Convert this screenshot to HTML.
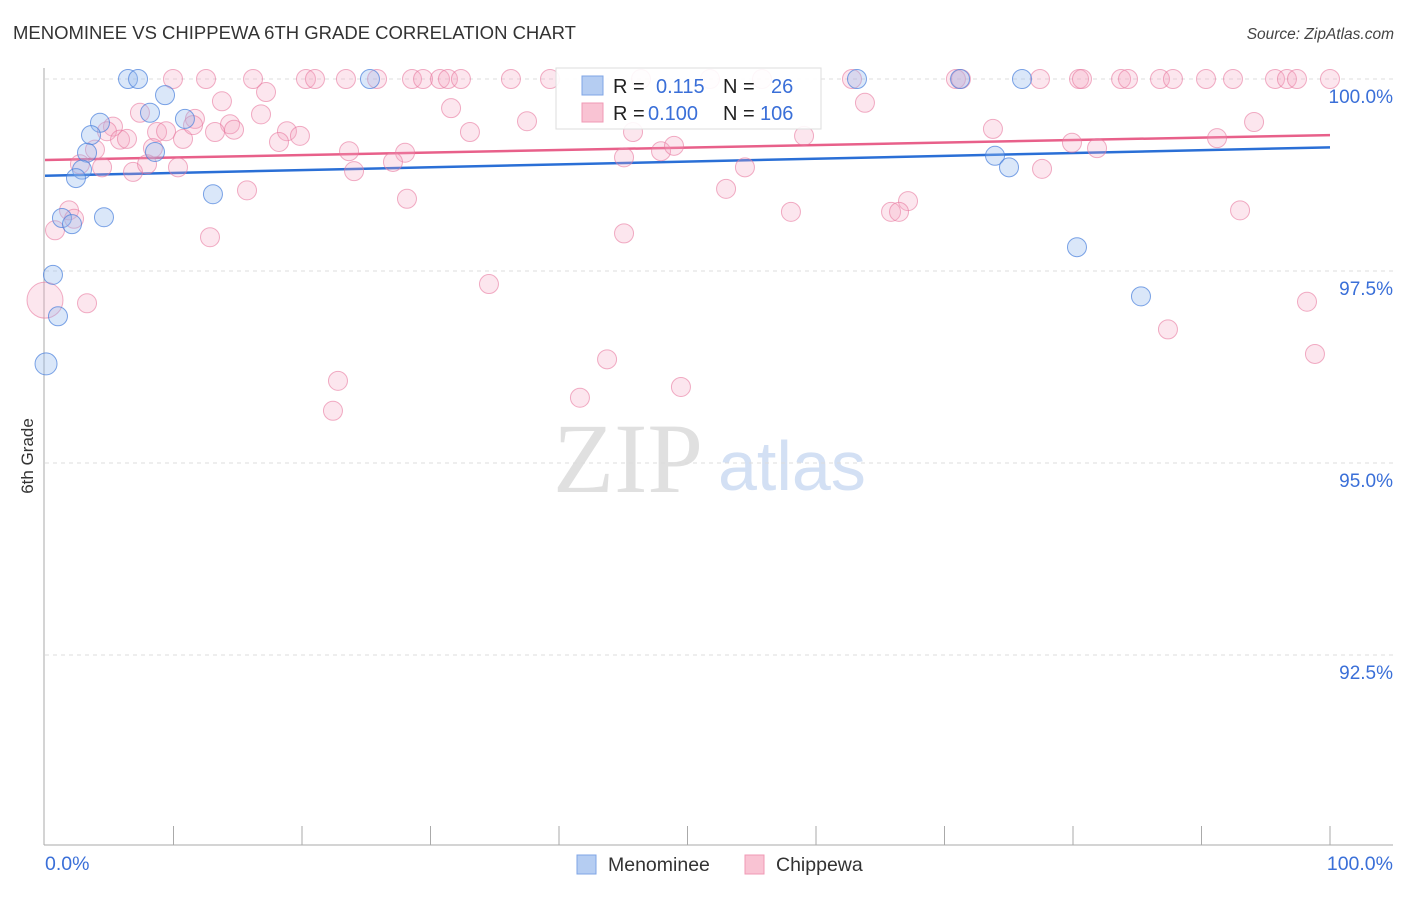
<!DOCTYPE html>
<html><head><meta charset="utf-8"><style>
body{margin:0;background:#fff;font-family:"Liberation Sans",sans-serif;}
</style></head><body>
<svg id="chart" width="1406" height="892" xmlns="http://www.w3.org/2000/svg" font-family="Liberation Sans, sans-serif">
<text x="13" y="39" font-size="18.5" fill="#333">MENOMINEE VS CHIPPEWA 6TH GRADE CORRELATION CHART</text>
<text x="1394" y="39" font-size="15.5" fill="#444" text-anchor="end" font-style="italic">Source: ZipAtlas.com</text>
<g>
<text x="553" y="492" font-size="100" fill="#e0e0e0" style="font-family:'Liberation Serif',serif">ZIP</text>
<text x="718" y="490" font-size="70" fill="#d3e0f4">atlas</text>
</g>
<g id="grid"></g>
<g id="axes"></g>
<g id="lines"></g>
<g id="pts"></g>
<text transform="translate(33,456) rotate(-90)" font-size="17" fill="#333" text-anchor="middle">6th Grade</text>
<text x="45" y="870" font-size="19.5" fill="#3a6fd8">0.0%</text>
<text x="1393" y="870" font-size="19.5" fill="#3a6fd8" text-anchor="end">100.0%</text>
<g>
<rect x="556" y="68" width="265" height="61" fill="#fff" fill-opacity="0.9" stroke="#ddd"/>
<rect x="582" y="76" width="21" height="19" fill="#b5cdf2" stroke="#7fa5e6"/>
<rect x="582" y="103" width="21" height="19" fill="#f9c3d3" stroke="#f09ab5"/>
<text x="613" y="93" font-size="20" fill="#222">R = </text><text x="656" y="93" font-size="20" fill="#3a6fd8">0.115</text>
<text x="723" y="93" font-size="20" fill="#222">N = </text><text x="771" y="93" font-size="20" fill="#3a6fd8">26</text>
<text x="613" y="120" font-size="20" fill="#222">R = </text><text x="648" y="120" font-size="20" fill="#3a6fd8">0.100</text>
<text x="723" y="120" font-size="20" fill="#222">N = </text><text x="760" y="120" font-size="20" fill="#3a6fd8">106</text>
</g>
<g>
<rect x="577" y="855" width="19" height="19" fill="#b5cdf2" stroke="#7fa5e6"/>
<text x="608" y="871" font-size="19.5" fill="#333">Menominee</text>
<rect x="745" y="855" width="19" height="19" fill="#f9c3d3" stroke="#f09ab5"/>
<text x="776" y="871" font-size="19.5" fill="#333">Chippewa</text>
</g>
</svg>
<script>
const yTicks=[100,97.5,95,92.5];
const yTickLabels=["100.0%","97.5%","95.0%","92.5%"];
const xTicks=[10,20,30,40,50,60,70,80,90,100];
const menX=[6.46,7.24,25.29,63.19,71.21,76.03,9.34,8.17,4.28,10.89,3.58,8.56,3.27,2.88,2.41,13.07,1.32,2.10,4.59,0.62,1.01,0.08,73.93,75.02,80.31,85.29];
const menY=[100,100,100,100,100,100,99.79,99.56,99.43,99.48,99.27,99.05,99.04,98.82,98.71,98.50,98.19,98.11,98.20,97.45,96.91,96.29,99.00,98.85,97.81,97.17];
const chipX=[9.96,12.53,16.19,20.31,21.01,23.42,25.84,28.56,29.42,30.74,31.36,32.37,36.26,39.30,46.38,51.75,55.80,62.80,70.89,71.28,77.43,80.47,80.70,83.74,84.28,86.77,87.78,90.35,92.45,95.72,96.65,97.43,100,
13.77,17.20,7.39,11.67,16.81,63.81,31.60,37.51,5.29,4.82,14.40,14.71,18.83,19.84,8.72,9.42,10.74,5.84,6.38,11.52,13.23,18.21,33.07,45.76,59.07,94.09,73.77,91.21,3.89,8.40,23.66,28.02,45.06,47.94,48.95,79.92,81.87,2.72,4.44,6.85,7.94,10.35,27.08,24.05,54.47,77.59,15.72,28.17,53.00,67.16,65.84,66.46,58.05,93.00,1.87,2.26,0.78,12.84,45.06,34.55,3.27,98.21,0,87.39,98.83,43.74,49.49,22.80,22.41,41.63];
const chipY=[100,100,100,100,100,100,100,100,100,100,100,100,100,100,100,100,100,100,100,100,100,100,100,100,100,100,100,100,100,100,100,100,100,
99.71,99.83,99.56,99.48,99.54,99.69,99.62,99.45,99.38,99.32,99.41,99.34,99.32,99.26,99.31,99.32,99.22,99.21,99.22,99.40,99.31,99.18,99.31,99.31,99.26,99.44,99.35,99.23,99.08,99.10,99.06,99.04,98.98,99.06,99.13,99.17,99.10,98.89,98.85,98.79,98.89,98.85,98.92,98.80,98.85,98.83,98.55,98.44,98.57,98.41,98.27,98.27,98.27,98.29,98.29,98.18,98.03,97.94,97.99,97.33,97.08,97.10,97.12,96.74,96.42,96.35,95.99,96.07,95.68,95.85];
const menTrend=[98.74,99.11];
const chipTrend=[98.945,99.27];
const NS="http://www.w3.org/2000/svg";
const X=v=>45+v*12.85;
const Y=v=>79+(100-v)*76.8;
function mk(tag,attrs,parent){const e=document.createElementNS(NS,tag);for(const k in attrs)e.setAttribute(k,attrs[k]);parent.appendChild(e);return e;}
const grid=document.getElementById('grid'),axes=document.getElementById('axes'),lines=document.getElementById('lines'),pts=document.getElementById('pts');
yTicks.forEach((t,i)=>{
 const l=mk('line',{x1:45,x2:1393,y1:Y(t),y2:Y(t),stroke:'#ddd','stroke-dasharray':'4,4'},grid);
 
 
 const tx=mk('text',{x:1393,y:Y(t)+24,'font-size':19,fill:'#3a6fd8','text-anchor':'end'},grid);
 tx.textContent=yTickLabels[i];
 
 
});
const ya=mk('line',{x1:44,x2:44,y1:68,y2:845,stroke:'#aaa'},axes);


const xa=mk('line',{x1:44,x2:1393,y1:845,y2:845,stroke:'#aaa'},axes);


xTicks.forEach(t=>{
 const k=mk('line',{x1:X(t),x2:X(t),y1:826,y2:845,stroke:'#aaa'},axes);
 
 
});
function dots(xs,ys,fill,stroke,name){
 xs.forEach((x,i)=>{
  const r=(x===0&&name==='chippewa-point')?18:(x<0.2&&name==='menominee-point'?11:9.5);
  const c=mk('circle',{cx:X(x),cy:Y(ys[i]),r:r,fill:fill,stroke:stroke,'stroke-width':1},pts);
  
  
 });
}
dots(chipX,chipY,'rgba(246,165,195,0.28)','rgba(232,120,158,0.6)','chippewa-point');
dots(menX,menY,'rgba(150,185,238,0.35)','rgba(70,125,220,0.7)','menominee-point');
const lp=mk('line',{x1:X(0),x2:X(100),y1:Y(chipTrend[0]),y2:Y(chipTrend[1]),stroke:'#e8608a','stroke-width':2.5},lines);


const lb=mk('line',{x1:X(0),x2:X(100),y1:Y(menTrend[0]),y2:Y(menTrend[1]),stroke:'#2a6fd6','stroke-width':2.5},lines);


</script>
</body></html>
